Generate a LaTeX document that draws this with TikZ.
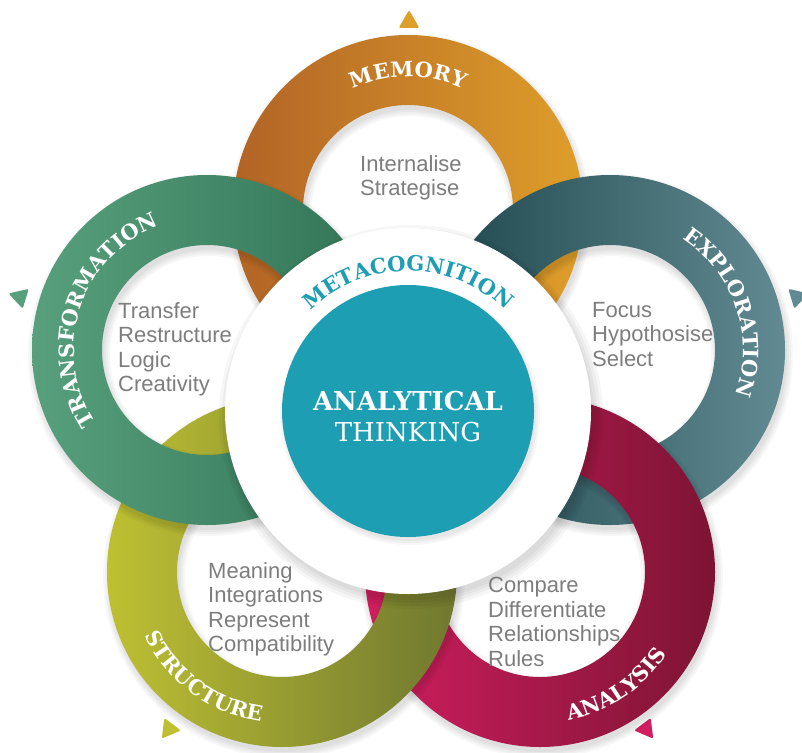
\documentclass[tikz,border=0pt]{standalone}
\usepackage{fontspec}
\setmainfont{Liberation Sans}
\newfontfamily\slab{DejaVu Serif}
\usetikzlibrary{calc,decorations.text}
\definecolor{memL}{RGB}{178,100,38}
\definecolor{memR}{RGB}{222,158,42}
\definecolor{expL}{RGB}{30,72,78}
\definecolor{expR}{RGB}{98,138,146}
\definecolor{traL}{RGB}{88,160,125}
\definecolor{traR}{RGB}{48,115,85}
\definecolor{strL}{RGB}{190,192,50}
\definecolor{strR}{RGB}{112,120,48}
\definecolor{anaL}{RGB}{208,30,95}
\definecolor{anaR}{RGB}{125,20,52}
\definecolor{tealc}{RGB}{30,158,178}
\definecolor{bodygray}{RGB}{125,125,125}
\newcommand\ringfont{\slab\bfseries\fontsize{21}{21}\selectfont\color{white}}
\newcommand\metafont{\slab\bfseries\fontsize{21}{21}\selectfont\color{tealc}}
\newcommand\ringshadow[1]{\foreach \k in {0,2,4,6}{\fill[black,opacity=0.03,even odd rule] ($(#1)+(2,-5)$) circle[radius=175+\k] circle[radius=105-\k];}}
\newcommand\ringdraw[3]{\ringshadow{#1}\path[left color=#2, right color=#3, even odd rule] (#1) circle[radius=175] circle[radius=105];}
\newcommand\tri[3]{\fill[#1, rounded corners=2] ($(#2)+(#3:12)$) -- ($(#2)+(#3+120:12)$) -- ($(#2)+(#3+240:12)$) -- cycle;}
\begin{document}
\begin{tikzpicture}[x=1pt,y=1pt,
  bodytext/.style={anchor=north west, inner sep=0pt, align=left, text=bodygray, font=\fontsize{22}{24.5}\selectfont},
  centertext/.style={inner sep=0pt, text=white}]
\useasboundingbox (0,0) rectangle (802,-752);
\clip (0,0) rectangle (802,-752);
\fill[white] (0,0) rectangle (802,-752);
\coordinate (M) at (408,-210);
\coordinate (X) at (610,-350);
\coordinate (A) at (540,-572);
\coordinate (S) at (282,-572);
\coordinate (T) at (207,-350);
\coordinate (C) at (408,-411);
% triangles
\coordinate (tM) at (409,-22);
\coordinate (tT) at (20,-297);
\coordinate (tX) at (797,-297);
\coordinate (tS) at (169,-729);
\coordinate (tA) at (646,-729);
\tri{memR}{tM}{90}
\tri{traL}{tT}{163}
\tri{expR}{tX}{17}
\tri{strL}{tS}{233}
\tri{anaL}{tA}{-53}
% rings, bottom to top
\ringdraw{M}{memL}{memR}
\ringdraw{X}{expL}{expR}
\ringdraw{A}{anaL}{anaR}
\ringdraw{S}{strL}{strR}
\ringdraw{T}{traL}{traR}
% ring labels
\path[decorate, decoration={text along path, text align=center, text={|\ringfont|MEMORY}}]
  ($(M)+(150:133)$) arc[start angle=150, end angle=30, radius=133];
\path[decorate, decoration={text along path, text align=center, text={|\ringfont|TRANSFORMATION}}]
  ($(T)+(232:133)$) arc[start angle=232, end angle=92, radius=133];
\path[decorate, decoration={text along path, text align=center, text={|\ringfont|EXPLORATION}}]
  ($(X)+(88.5:133)$) arc[start angle=88.5, end angle=-51.5, radius=133];
\path[decorate, decoration={text along path, text align=center, text={|\ringfont|STRUCTURE}}]
  ($(S)+(163.5:151)$) arc[start angle=163.5, end angle=303.5, radius=151];
\path[decorate, decoration={text along path, text align=center, text={|\ringfont|ANALYSIS}}]
  ($(A)+(-126:151)$) arc[start angle=-126, end angle=14, radius=151];
% central disks
\foreach \k in {0,3,6,9}{\fill[black,opacity=0.035] ($(C)+(3,-6)$) circle[radius=183+\k];}
\fill[white] (C) circle[radius=183];
\foreach \k in {0,2,4}{\fill[black,opacity=0.03] ($(C)+(2,-4)$) circle[radius=126+\k];}
\fill[tealc] (C) circle[radius=126];
\path[decorate, decoration={text along path, text align=center, text={|\metafont|METACOGNITION}}]
  ($(C)+(160:140)$) arc[start angle=160, end angle=20, radius=140];
\node[centertext, font=\slab\bfseries\fontsize{26}{26}\selectfont] (t1) at (408,-401) {ANALYTICAL};
\node[centertext, font=\slab\fontsize{26}{26}\selectfont] (t2) at (408,-432) {THINKING};
% body texts
\node[bodytext] (mtext) at (360,-155) {Internalise\\Strategise};
\node[bodytext] (ttext) at (118,-302) {Transfer\\Restructure\\Logic\\Creativity};
\node[bodytext] (xtext) at (592,-302) {Focus\\Hypothosise\\Select};
\node[bodytext] (stext) at (208,-562) {Meaning\\Integrations\\Represent\\Compatibility};
\node[bodytext] (atext) at (488,-577) {Compare\\Differentiate\\Relationships\\Rules};
\end{tikzpicture}
\end{document}
